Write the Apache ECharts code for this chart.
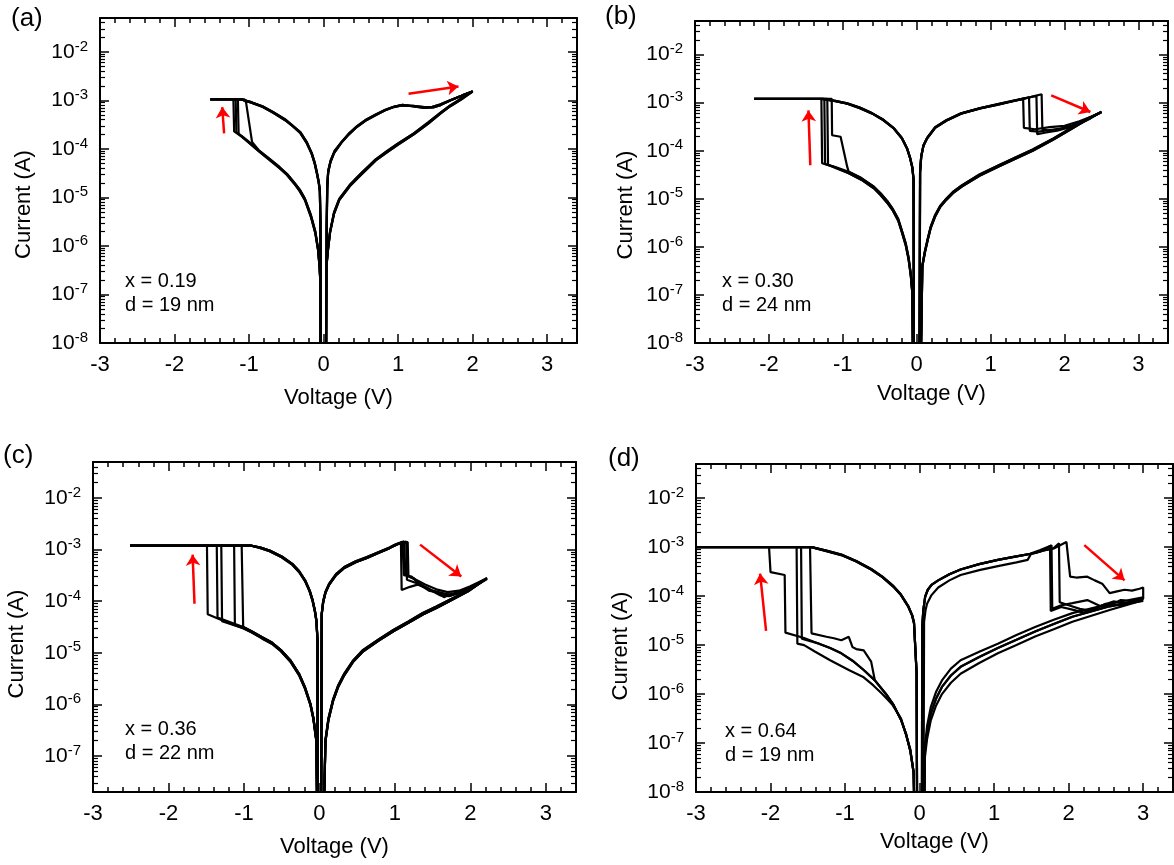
<!DOCTYPE html>
<html lang="en">
<head>
<meta charset="UTF-8" />
<title>Resistive switching I-V</title>
<style>
    body { margin: 0; padding: 0; background: #fff; }
    .chart { width: 1174px; height: 865px; }
</style>
</head>
<body>
<div class="chart"></div>
<script src="https://cdn.jsdelivr.net/npm/echarts@6.0.0/dist/echarts.min.js"></script>
<script>
    const FONT = 'Liberation Sans, Arial, Helvetica, sans-serif';

    // axis ticks
    const xMajor = [-3, -2, -1, 0, 1, 2, 3];
    const xMinor = [-2.8, -2.6, -2.4, -2.2, -1.8, -1.6, -1.4, -1.2, -0.8, -0.6, -0.4, -0.2,
        0.2, 0.4, 0.6, 0.8, 1.2, 1.4, 1.6, 1.8, 2.2, 2.4, 2.6, 2.8, 3.2];
    const yDecades = [-8, -7, -6, -5, -4, -3, -2];
    const xRange = [-3, 3.4];
    const yMins = [1e-8, 1e-8, 2e-8, 1e-8];
    const yMax = 0.05;

    const tags = ['(a)', '(b)', '(c)', '(d)'];
    const notes = ['x = 0.19\nd = 19 nm', 'x = 0.30\nd = 24 nm', 'x = 0.36\nd = 22 nm', 'x = 0.64\nd = 19 nm'];

    // ---------- (a) x = 0.19, branches as [V, A] ----------
    const lrsPosA1 = [[0.03,1e-10],[0.04,2e-6],[0.048,1.5e-5],[0.06,3.2e-5],[0.09,5.2e-5],[0.14,8.2e-5],[0.24,1.35e-4],[0.34,2e-4],[0.44,2.8e-4],[0.56,3.8e-4],[0.69,4.9e-4],[0.82,6.2e-4],[0.94,7.3e-4],[1.05,7.9e-4],[1.2,7.7e-4],[1.35,7.3e-4],[1.46,7.4e-4],[1.56,8.2e-4],[1.69,1.0e-3],[1.85,1.25e-3],[2.0,1.55e-3]];
    const lrsPosA2 = [[0.03,1e-10],[0.042,2.5e-6],[0.05,1.7e-5],[0.063,3.6e-5],[0.095,5.8e-5],[0.15,9.2e-5],[0.25,1.45e-4],[0.35,2.15e-4],[0.45,2.95e-4],[0.57,4.0e-4],[0.7,5.15e-4],[0.83,6.4e-4],[0.95,7.5e-4],[1.06,8.1e-4],[1.21,7.5e-4],[1.35,7.0e-4],[1.47,7.2e-4],[1.57,8.0e-4],[1.7,1.0e-3],[1.86,1.27e-3],[2.0,1.52e-3]];
    const hrsPosA1 = [[1.85,1.05e-3],[1.7,7.6e-4],[1.57,5.4e-4],[1.4,3.3e-4],[1.21,2.0e-4],[0.99,1.2e-4],[0.85,8.5e-5],[0.7,5.8e-5],[0.5,2.9e-5],[0.35,1.7e-5],[0.21,8.8e-6],[0.14,4.6e-6],[0.087,1.9e-6],[0.06,8.5e-7],[0.04,4e-7],[0.025,1e-10]];
    const hrsPosA2 = [[1.85,1.1e-3],[1.7,7.9e-4],[1.57,5.6e-4],[1.4,3.5e-4],[1.21,2.1e-4],[0.99,1.27e-4],[0.85,9.0e-5],[0.7,6.1e-5],[0.5,3.1e-5],[0.35,1.8e-5],[0.21,9.3e-6],[0.14,4.9e-6],[0.087,2.0e-6],[0.06,9e-7],[0.04,4.2e-7],[0.025,1e-10]];
    const hrsNegA1 = [[-0.035,1e-10],[-0.045,2e-7],[-0.054,3.7e-7],[-0.074,8.2e-7],[-0.11,1.8e-6],[-0.17,4e-6],[-0.25,8.8e-6],[-0.32,1.35e-5],[-0.39,1.9e-5],[-0.49,2.9e-5],[-0.59,4.0e-5],[-0.73,6.0e-5],[-0.87,9.0e-5]];
    const hrsNegA2 = [[-0.035,1e-10],[-0.046,2.2e-7],[-0.055,4e-7],[-0.075,8.8e-7],[-0.11,1.95e-6],[-0.17,4.3e-6],[-0.25,9.4e-6],[-0.32,1.45e-5],[-0.39,2.0e-5],[-0.49,3.05e-5],[-0.59,4.2e-5],[-0.73,6.3e-5],[-0.87,9.4e-5]];
    const setA1 = [[-1.0,1.35e-4],[-1.1,1.8e-4],[-1.2,2.3e-4],[-1.21,1.05e-3],[-1.52,1.05e-3]];
    const setA2 = [[-1.0,1.4e-4],[-1.1,1.85e-4],[-1.17,2.2e-4],[-1.18,1.05e-3],[-1.52,1.05e-3]];
    const setA3 = [[-1.0,1.33e-4],[-1.08,1.7e-4],[-1.14,2.05e-4],[-1.15,1.05e-3],[-1.52,1.05e-3]];
    const setA4 = [[-0.96,1.4e-4],[-1.04,9.0e-4],[-1.06,1.05e-3],[-1.52,1.05e-3]];
    const lrsNegA1 = [[-1.1,1.05e-3],[-0.96,8.9e-4],[-0.815,7.3e-4],[-0.67,5.5e-4],[-0.515,3.9e-4],[-0.41,2.9e-4],[-0.31,2.1e-4],[-0.23,1.35e-4],[-0.16,7.9e-5],[-0.12,5.0e-5],[-0.09,3.1e-5],[-0.065,2.0e-5],[-0.05,1.3e-5],[-0.042,3e-6],[-0.03,1e-10]];
    const lrsNegA2 = [[-1.11,1.05e-3],[-0.97,9.2e-4],[-0.82,7.6e-4],[-0.68,5.8e-4],[-0.52,4.1e-4],[-0.42,3.05e-4],[-0.31,2.2e-4],[-0.23,1.42e-4],[-0.16,8.3e-5],[-0.12,5.3e-5],[-0.09,3.3e-5],[-0.065,2.1e-5],[-0.05,1.4e-5],[-0.043,3.2e-6],[-0.03,1e-10]];

    // ---------- (b) x = 0.30 ----------
    const lrsPosB1 = [[0.035,1e-10],[0.045,3.5e-5],[0.06,7.5e-5],[0.09,1.25e-4],[0.14,1.8e-4],[0.25,3.0e-4],[0.4,4.2e-4],[0.6,5.9e-4],[0.86,7.6e-4],[1.1,9.1e-4],[1.3,1.07e-3],[1.44,1.2e-3]];
    const lrsPosB2 = [[0.035,1e-10],[0.046,3.7e-5],[0.062,7.8e-5],[0.092,1.3e-4],[0.14,1.85e-4],[0.25,3.1e-4],[0.4,4.3e-4],[0.6,6.0e-4],[0.86,7.7e-4],[1.1,9.3e-4],[1.3,1.09e-3],[1.44,1.21e-3]];
    const resetB1 = [[1.45,3.0e-4],[1.6,2.8e-4],[1.8,3.1e-4],[2.0,3.3e-4],[2.2,4.1e-4],[2.35,5.0e-4],[2.5,6.4e-4]];
    const resetB2 = [[1.52,1.28e-3],[1.53,2.6e-4],[1.65,2.5e-4],[1.8,2.7e-4],[1.95,2.9e-4],[2.1,3.3e-4],[2.3,4.4e-4],[2.5,6.3e-4]];
    const resetB3 = [[1.52,1.28e-3],[1.62,1.38e-3],[1.63,2.2e-4],[1.75,2.4e-4],[1.9,2.6e-4],[2.05,3.0e-4],[2.2,3.6e-4],[2.35,4.7e-4],[2.5,6.5e-4]];
    const resetB4 = [[1.55,1.32e-3],[1.69,1.5e-3],[1.7,2.8e-4],[1.8,2.6e-4],[1.95,2.9e-4],[2.1,3.4e-4],[2.3,4.5e-4],[2.5,6.4e-4]];
    const hrsPosB1 = [[2.3,4.4e-4],[2.12,3.0e-4],[1.85,1.7e-4],[1.57,1.0e-4],[1.35,7.0e-5],[1.11,4.7e-5],[0.85,3.0e-5],[0.61,1.8e-5],[0.5,1.35e-5],[0.4,9.5e-6],[0.32,6.8e-6],[0.25,4.3e-6],[0.19,2.5e-6],[0.15,1.4e-6],[0.11,7.5e-7],[0.076,3.9e-7],[0.04,1e-10]];
    const hrsPosB2 = [[2.3,4.6e-4],[2.12,3.15e-4],[1.85,1.8e-4],[1.57,1.06e-4],[1.35,7.4e-5],[1.11,5.0e-5],[0.85,3.2e-5],[0.61,1.9e-5],[0.5,1.43e-5],[0.4,1.0e-5],[0.32,7.2e-6],[0.25,4.6e-6],[0.19,2.65e-6],[0.15,1.5e-6],[0.11,8e-7],[0.076,4.1e-7],[0.04,1e-10]];
    const hrsNegB1 = [[-0.04,1e-10],[-0.06,1.1e-7],[-0.08,2.5e-7],[-0.11,5.5e-7],[-0.15,1.1e-6],[-0.2,2.0e-6],[-0.25,3.5e-6],[-0.32,5.6e-6],[-0.4,8.3e-6],[-0.49,1.2e-5],[-0.58,1.65e-5],[-0.75,2.5e-5],[-0.92,3.4e-5]];
    const hrsNegB2 = [[-0.04,1e-10],[-0.06,1.2e-7],[-0.08,2.7e-7],[-0.11,6e-7],[-0.15,1.2e-6],[-0.2,2.15e-6],[-0.25,3.8e-6],[-0.32,6.0e-6],[-0.4,9.0e-6],[-0.49,1.3e-5],[-0.58,1.78e-5],[-0.75,2.7e-5],[-0.92,3.65e-5]];
    const setB1 = [[-1.1,4.5e-5],[-1.28,5.5e-5],[-1.29,1.2e-3],[-2.2,1.2e-3]];
    const setB2 = [[-1.1,4.6e-5],[-1.24,5.3e-5],[-1.25,1.2e-3],[-2.2,1.2e-3]];
    const setB3 = [[-1.1,4.4e-5],[-1.2,5.1e-5],[-1.21,1.2e-3],[-2.2,1.2e-3]];
    const setB4 = [[-0.94,4.6e-5],[-1.03,1.95e-4],[-1.145,2.1e-4],[-1.15,1.2e-3],[-2.2,1.2e-3]];
    const lrsNegB1 = [[-1.28,1.2e-3],[-1.1,1.07e-3],[-0.94,9.5e-4],[-0.77,7.7e-4],[-0.6,5.9e-4],[-0.45,4.3e-4],[-0.31,2.9e-4],[-0.2,1.8e-4],[-0.13,1.1e-4],[-0.09,7.0e-5],[-0.06,4.5e-5],[-0.043,2.5e-5],[-0.035,1e-10]];
    const lrsNegB2 = [[-1.28,1.2e-3],[-1.1,1.09e-3],[-0.94,9.7e-4],[-0.77,7.9e-4],[-0.6,6.0e-4],[-0.45,4.4e-4],[-0.31,2.95e-4],[-0.2,1.85e-4],[-0.13,1.12e-4],[-0.09,7.2e-5],[-0.06,4.6e-5],[-0.043,2.6e-5],[-0.035,1e-10]];

    // ---------- (c) x = 0.36 ----------
    const lrsPosC1 = [[0.02,1e-10],[0.03,5.5e-5],[0.05,9.5e-5],[0.08,1.45e-4],[0.13,2.1e-4],[0.22,3.2e-4],[0.33,4.4e-4],[0.48,5.7e-4],[0.63,6.9e-4],[0.78,8.6e-4],[0.93,1.07e-3],[1.0,1.2e-3],[1.05,1.3e-3]];
    const lrsPosC2 = [[0.02,1e-10],[0.031,5.8e-5],[0.05,1.0e-4],[0.08,1.52e-4],[0.13,2.2e-4],[0.22,3.35e-4],[0.33,4.6e-4],[0.48,5.95e-4],[0.63,7.2e-4],[0.78,8.9e-4],[0.93,1.1e-3],[1.0,1.24e-3],[1.05,1.33e-3]];
    const resetC1 = [[1.08,1.38e-3],[1.09,1.65e-4],[1.2,1.9e-4],[1.3,2.1e-4],[1.45,1.7e-4],[1.6,1.4e-4],[1.75,1.35e-4],[1.9,1.6e-4],[2.05,2.0e-4],[2.22,2.8e-4]];
    const resetC2 = [[1.1,1.42e-3],[1.12,3.2e-4],[1.22,3.0e-4],[1.3,2.3e-4],[1.4,1.9e-4],[1.5,1.6e-4],[1.62,1.45e-4],[1.75,1.3e-4],[1.9,1.55e-4],[2.05,2.0e-4],[2.22,2.75e-4]];
    const resetC3 = [[1.12,1.45e-3],[1.14,3.3e-4],[1.25,2.8e-4],[1.35,2.0e-4],[1.45,1.6e-4],[1.55,1.5e-4],[1.65,1.2e-4],[1.75,1.4e-4],[1.9,1.5e-4],[2.05,1.9e-4],[2.22,2.7e-4]];
    const resetC4 = [[1.15,1.43e-3],[1.16,2.6e-4],[1.3,2.2e-4],[1.45,1.7e-4],[1.6,1.3e-4],[1.72,1.25e-4],[1.85,1.45e-4],[2.0,1.8e-4],[2.22,2.8e-4]];
    const resetC5 = [[1.17,1.4e-3],[1.18,3.0e-4],[1.28,2.6e-4],[1.4,2.1e-4],[1.55,1.7e-4],[1.7,1.5e-4],[1.85,1.6e-4],[2.0,1.95e-4],[2.22,2.8e-4]];
    const hrsPosC1 = [[1.97,1.55e-4],[1.72,1.0e-4],[1.55,7.4e-5],[1.37,5.5e-5],[1.18,3.8e-5],[0.98,2.6e-5],[0.78,1.7e-5],[0.58,1.07e-5],[0.45,6.8e-6],[0.33,3.7e-6],[0.25,2.2e-6],[0.18,1.15e-6],[0.12,5e-7],[0.08,1.9e-7],[0.03,1e-10]];
    const hrsPosC2 = [[1.97,1.62e-4],[1.72,1.06e-4],[1.55,7.9e-5],[1.37,5.9e-5],[1.18,4.05e-5],[0.98,2.77e-5],[0.78,1.8e-5],[0.58,1.14e-5],[0.45,7.2e-6],[0.33,3.95e-6],[0.25,2.35e-6],[0.18,1.23e-6],[0.12,5.4e-7],[0.08,2.05e-7],[0.03,1e-10]];
    const hrsNegC1 = [[-0.017,1e-10],[-0.04,1.9e-7],[-0.08,5.2e-7],[-0.12,9.8e-7],[-0.19,2.0e-6],[-0.27,3.7e-6],[-0.38,6.6e-6],[-0.51,1.07e-5],[-0.63,1.5e-5],[-0.76,1.9e-5],[-0.9,2.5e-5],[-1.01,3.0e-5]];
    const hrsNegC2 = [[-0.017,1e-10],[-0.04,2.0e-7],[-0.08,5.5e-7],[-0.12,1.04e-6],[-0.19,2.12e-6],[-0.27,3.92e-6],[-0.38,7.0e-6],[-0.51,1.13e-5],[-0.63,1.58e-5],[-0.76,2.0e-5],[-0.9,2.62e-5],[-1.01,3.15e-5]];
    const setC1 = [[-1.26,4.1e-5],[-1.48,5.6e-5],[-1.49,1.2e-3],[-2.51,1.2e-3]];
    const setC2 = [[-1.26,4.3e-5],[-1.35,4.8e-5],[-1.36,1.2e-3],[-2.51,1.2e-3]];
    const setC3 = [[-1.26,3.95e-5],[-1.29,4.1e-5],[-1.3,1.2e-3],[-2.51,1.2e-3]];
    const setC4 = [[-1.12,3.5e-5],[-1.13,1.2e-3],[-2.51,1.2e-3]];
    const setC5 = [[-1.02,3.0e-5],[-1.03,1.2e-3],[-2.51,1.2e-3]];
    const lrsNegC1 = [[-0.91,1.2e-3],[-0.78,1.07e-3],[-0.66,9.3e-4],[-0.5,7.1e-4],[-0.36,5.1e-4],[-0.27,3.7e-4],[-0.19,2.45e-4],[-0.13,1.55e-4],[-0.09,1.0e-4],[-0.06,6.3e-5],[-0.04,4.1e-5],[-0.025,1.7e-5],[-0.02,1e-10]];
    const lrsNegC2 = [[-0.91,1.2e-3],[-0.78,1.1e-3],[-0.66,9.6e-4],[-0.5,7.4e-4],[-0.36,5.3e-4],[-0.27,3.85e-4],[-0.19,2.55e-4],[-0.13,1.62e-4],[-0.09,1.05e-4],[-0.06,6.6e-5],[-0.04,4.3e-5],[-0.025,1.8e-5],[-0.02,1e-10]];

    // ---------- (d) x = 0.64 ----------
    const lrsPosD1 = [[0.03,1e-10],[0.035,2.3e-5],[0.05,5.2e-5],[0.075,9.8e-5],[0.11,1.35e-4],[0.16,1.7e-4],[0.25,2.1e-4],[0.4,2.8e-4],[0.55,3.5e-4],[0.8,4.5e-4],[1.05,5.5e-4],[1.3,6.5e-4],[1.55,7.6e-4],[1.65,8.5e-4]];
    const lrsPosD2 = [[0.05,1e-10],[0.06,3.0e-5],[0.08,5.2e-5],[0.1,7.0e-5],[0.16,1.05e-4],[0.25,1.5e-4],[0.4,2.1e-4],[0.55,2.7e-4],[0.8,3.4e-4],[1.05,4.1e-4],[1.3,4.9e-4],[1.45,5.5e-4],[1.5,7.5e-4],[1.62,8.8e-4]];
    const resetD1 = [[1.77,1.1e-3],[1.78,5.5e-5],[1.9,6.5e-5],[2.05,7.2e-5],[2.25,8.3e-5],[2.45,6.0e-5],[2.6,7.0e-5],[2.7,8.3e-5],[2.85,8.0e-5],[3.0,9.5e-5]];
    const resetD2 = [[1.8,9.6e-4],[1.87,1.2e-3],[1.88,7.5e-5],[2.0,6.5e-5],[2.15,5.5e-5],[2.3,5.0e-5],[2.45,6.5e-5],[2.6,7.8e-5],[2.8,7.0e-5],[3.0,8.3e-5]];
    const resetD3 = [[1.8,9.4e-4],[1.97,1.28e-3],[2.02,2.5e-4],[2.1,2.4e-4],[2.25,2.5e-4],[2.35,2.1e-4],[2.45,1.8e-4],[2.55,1.15e-4],[2.65,1.25e-4],[2.75,1.35e-4],[2.85,1.3e-4],[2.95,1.42e-4],[3.0,1.5e-4],[3.0,8.8e-5]];
    const resetD4 = [[1.75,1.05e-3],[1.76,5.0e-5],[1.9,6.0e-5],[2.05,5.3e-5],[2.2,4.6e-5],[2.35,5.5e-5],[2.5,7.0e-5],[2.7,6.5e-5],[2.85,7.5e-5],[3.0,8.0e-5]];
    const hrsPosD1 = [[2.55,7.0e-5],[2.05,4.5e-5],[1.8,3.3e-5],[1.55,2.35e-5],[1.3,1.6e-5],[1.05,1.07e-5],[0.8,7.3e-6],[0.55,4.9e-6],[0.42,3.3e-6],[0.3,1.9e-6],[0.22,1.1e-6],[0.15,5.4e-7],[0.1,2.2e-7],[0.07,8e-8],[0.05,1e-10]];
    const hrsPosD2 = [[2.55,5.2e-5],[2.05,3.0e-5],[1.8,2.1e-5],[1.55,1.5e-5],[1.3,1.0e-5],[1.05,6.8e-6],[0.8,4.3e-6],[0.55,2.6e-6],[0.42,1.7e-6],[0.3,1.0e-6],[0.22,5.8e-7],[0.15,2.9e-7],[0.1,1.2e-7],[0.07,5e-8],[0.05,1e-10]];
    const hrsPosD3 = [[2.55,6.2e-5],[2.05,3.8e-5],[1.8,2.7e-5],[1.55,1.9e-5],[1.3,1.28e-5],[1.05,8.7e-6],[0.8,5.7e-6],[0.55,3.6e-6],[0.42,2.4e-6],[0.3,1.4e-6],[0.22,8e-7],[0.15,4e-7],[0.1,1.6e-7],[0.07,6.5e-8],[0.05,1e-10]];
    const hrsNegD1 = [[-0.05,1e-10],[-0.08,2.5e-8],[-0.125,7e-8],[-0.18,1.5e-7],[-0.25,3e-7],[-0.35,6e-7],[-0.45,1.0e-6],[-0.6,1.9e-6],[-0.75,3.1e-6],[-0.9,4.8e-6],[-1.05,6.8e-6],[-1.2,8.7e-6],[-1.35,1.07e-5]];
    const hrsNegD2 = [[-0.05,1e-10],[-0.08,2.5e-8],[-0.125,7.5e-8],[-0.25,3.2e-7],[-0.37,6.2e-7],[-0.5,1.0e-6],[-0.62,1.5e-6],[-0.75,2.2e-6],[-0.95,3.1e-6],[-1.2,4.9e-6],[-1.4,7.3e-6],[-1.55,1.0e-5]];
    const setD1 = [[-1.55,1.4e-5],[-1.8,1.8e-5],[-1.81,2.7e-4],[-2.0,3.1e-4],[-2.02,1.0e-3],[-3.0,1.0e-3]];
    const setD2 = [[-1.64,1.07e-5],[-1.65,1.0e-3],[-3.0,1.0e-3]];
    const setD3 = [[-1.58,1.35e-5],[-1.59,1.0e-3],[-3.0,1.0e-3]];
    const setD4 = [[-0.65,4.6e-6],[-0.75,7.8e-6],[-0.85,8.3e-6],[-0.9,9.1e-6],[-0.95,1.48e-5],[-1.05,1.26e-5],[-1.15,1.38e-5],[-1.25,1.48e-5],[-1.45,1.74e-5],[-1.47,1.0e-3],[-3.0,1.0e-3]];
    const lrsNegD1 = [[-1.45,1.0e-3],[-1.25,8.3e-4],[-1.05,6.9e-4],[-0.85,5.1e-4],[-0.65,3.5e-4],[-0.5,2.45e-4],[-0.35,1.55e-4],[-0.25,1.05e-4],[-0.15,6.0e-5],[-0.1,4.0e-5],[-0.075,2.8e-5],[-0.04,2.6e-6],[-0.03,1e-10]];
    const lrsNegD2 = [[-1.45,1.0e-3],[-1.25,8.5e-4],[-1.05,7.05e-4],[-0.85,5.2e-4],[-0.65,3.6e-4],[-0.5,2.5e-4],[-0.35,1.6e-4],[-0.25,1.08e-4],[-0.15,6.2e-5],[-0.1,4.1e-5],[-0.075,2.9e-5],[-0.04,2.7e-6],[-0.03,1e-10]];

    // red arrows: [tail, head]
    const arrowsA = [[[-1.335, 2.1e-4], [-1.36, 7.3e-4]], [[1.14, 1.37e-3], [1.81, 1.94e-3]]];
    const arrowsB = [[[-1.44, 5.0e-5], [-1.465, 6.9e-4]], [[1.82, 1.42e-3], [2.35, 6.4e-4]]];
    const arrowsC = [[[-1.655, 8.9e-5], [-1.68, 8.0e-4]], [[1.334, 1.25e-3], [1.88, 3.0e-4]]];
    const arrowsD = [[[-2.06, 1.95e-5], [-2.14, 2.9e-4]], [[2.21, 1.1e-3], [2.75, 2.1e-4]]];

    const cat = (...parts) => [].concat(...parts);
    const cycles = [
        [
            cat(lrsPosA1, hrsPosA1, hrsNegA1, setA1, lrsNegA1),
            cat(lrsPosA2, hrsPosA2, hrsNegA2, setA2, lrsNegA2),
            cat(lrsPosA1, hrsPosA2, hrsNegA1, setA3, lrsNegA2),
            cat(lrsPosA2, hrsPosA1, hrsNegA2, setA4, lrsNegA1)
        ],
        [
            cat(lrsPosB1, resetB1, hrsPosB1, hrsNegB1, setB1, lrsNegB1),
            cat(lrsPosB2, resetB2, hrsPosB2, hrsNegB2, setB2, lrsNegB2),
            cat(lrsPosB1, resetB3, hrsPosB2, hrsNegB1, setB3, lrsNegB2),
            cat(lrsPosB2, resetB4, hrsPosB1, hrsNegB2, setB4, lrsNegB1)
        ],
        [
            cat(lrsPosC1, resetC1, hrsPosC1, hrsNegC1, setC1, lrsNegC1),
            cat(lrsPosC2, resetC2, hrsPosC2, hrsNegC2, setC2, lrsNegC2),
            cat(lrsPosC1, resetC3, hrsPosC2, hrsNegC1, setC3, lrsNegC2),
            cat(lrsPosC2, resetC4, hrsPosC1, hrsNegC2, setC4, lrsNegC1),
            cat(lrsPosC1, resetC5, hrsPosC1, hrsNegC2, setC5, lrsNegC2)
        ],
        [
            cat(lrsPosD1, resetD1, hrsPosD1, hrsNegD1, setD1, lrsNegD1),
            cat(lrsPosD1, resetD2, hrsPosD2, hrsNegD2, setD2, lrsNegD2),
            cat(lrsPosD1, resetD3, hrsPosD3, hrsNegD1, setD3, lrsNegD1),
            cat(lrsPosD2, resetD4, hrsPosD3, hrsNegD1.slice(0, 8), setD4, lrsNegD2)
        ]
    ];
    const arrows = [arrowsA, arrowsB, arrowsC, arrowsD];

    // page layout (pixels)
    const layout = [
        {left: 100, top: 18, width: 477, height: 325, xGap: 44, yGap: 65, yShift: 24, tag: [11, 6], note: [125, 269]},
        {left: 695, top: 21, width: 473, height: 322, xGap: 40, yGap: 58, yShift: 23, tag: [605, 4], note: [722, 269]},
        {left: 93, top: 462, width: 483, height: 330, xGap: 44, yGap: 65, yShift: 17, tag: [3, 443], note: [125, 717]},
        {left: 696, top: 464, width: 477, height: 328, xGap: 39, yGap: 64, yShift: 18, tag: [608, 446], note: [725, 719]}
    ];

    const black = '#000';
    const grids = [], xAxes = [], yAxes = [], series = [], graphics = [];

    function minorLogTicks(lo, hi) {
        const out = [];
        for (let n = -9; n <= -1; n++) {
            for (let k = 2; k <= 9; k++) {
                const v = n + Math.log10(k);
                if (v > lo && v < hi) out.push(v);
            }
        }
        return out;
    }

    const frameLine = {show: true, onZero: false, lineStyle: {color: black, width: 2}};
    const noLine = {show: false, onZero: false};
    const tick = (len, values, w) => ({show: true, inside: true, length: len, customValues: values, lineStyle: {color: black, width: w}});

    cycles.forEach((set, i) => {
        const L = layout[i];
        grids.push({left: L.left, top: L.top, width: L.width, height: L.height});
        const lo = Math.log10(yMins[i]);
        const hi = Math.log10(yMax);
        const decades = yDecades.filter(v => v >= lo - 1e-9 && v <= hi);
        const minor = minorLogTicks(lo, hi);

        const xi = xAxes.length;
        const xBase = {gridIndex: i, type: 'value', min: xRange[0], max: xRange[1], splitLine: {show: false}};
        xAxes.push(Object.assign({}, xBase, {
            position: 'bottom',
            name: 'Voltage (V)', nameLocation: 'middle', nameGap: L.xGap,
            nameTextStyle: {fontFamily: FONT, fontSize: 22, color: black},
            axisLine: frameLine,
            axisTick: tick(9, xMajor, 1.5),
            axisLabel: {customValues: xMajor, margin: 11, fontFamily: FONT, fontSize: 22, color: black}
        }));
        xAxes.push(Object.assign({}, xBase, {position: 'bottom', axisLine: noLine, axisTick: tick(5, xMinor, 1.5), axisLabel: {show: false}}));
        xAxes.push(Object.assign({}, xBase, {position: 'top', axisLine: frameLine, axisTick: tick(9, xMajor, 1.5), axisLabel: {show: false}}));
        xAxes.push(Object.assign({}, xBase, {position: 'top', axisLine: noLine, axisTick: tick(5, xMinor, 1.5), axisLabel: {show: false}}));

        // data axis: real log scale
        const yi = yAxes.length;
        yAxes.push({gridIndex: i, type: 'log', logBase: 10, min: yMins[i], max: yMax, show: false});

        // frame / tick axes in log10 units, same extent as the data axis
        const yBase = {gridIndex: i, type: 'value', min: lo, max: hi, splitLine: {show: false}};
        yAxes.push(Object.assign({}, yBase, {
            position: 'left',
            name: 'Current (A)', nameLocation: 'middle', nameGap: L.yGap, nameRotate: 90,
            nameTextStyle: {fontFamily: FONT, fontSize: 22, color: black, padding: [0, L.yShift * 2, 0, 0]},
            axisLine: frameLine,
            axisTick: tick(9, decades, 1.5),
            axisLabel: {
                customValues: decades, margin: 12,
                formatter: v => '{b|10}{s|' + Math.round(v) + '}',
                rich: {
                    b: {fontFamily: FONT, fontSize: 21, color: black, lineHeight: 26},
                    s: {fontFamily: FONT, fontSize: 15, color: black, lineHeight: 15, verticalAlign: 'top'}
                }
            }
        }));
        yAxes.push(Object.assign({}, yBase, {position: 'left', axisLine: noLine, axisTick: tick(5, minor, 1.2), axisLabel: {show: false}}));
        yAxes.push(Object.assign({}, yBase, {position: 'right', axisLine: frameLine, axisTick: tick(9, decades, 1.5), axisLabel: {show: false}}));
        yAxes.push(Object.assign({}, yBase, {position: 'right', axisLine: noLine, axisTick: tick(5, minor, 1.2), axisLabel: {show: false}}));

        set.forEach(cyc => {
            series.push({
                type: 'line', xAxisIndex: xi, yAxisIndex: yi, data: cyc,
                symbol: 'none', silent: true, clip: true,
                lineStyle: {color: black, width: 2.2}
            });
        });
        series.push({
            type: 'lines', coordinateSystem: 'cartesian2d', xAxisIndex: xi, yAxisIndex: yi,
            symbol: ['none', 'arrow'], symbolSize: 11, silent: true,
            lineStyle: {color: '#f00', width: 2.5, opacity: 1},
            data: arrows[i].map(a => ({coords: a}))
        });

        graphics.push({
            type: 'text', left: L.tag[0], top: L.tag[1],
            style: {text: tags[i], font: '26px ' + FONT, fill: black}
        });
        graphics.push({
            type: 'text', left: L.note[0], top: L.note[1],
            style: {text: notes[i], font: '20px ' + FONT, fill: black, lineHeight: 24}
        });
    });

    const chart = echarts.init(document.querySelector('.chart'));
    chart.setOption({
        animation: false,
        backgroundColor: '#fff',
        grid: grids,
        xAxis: xAxes,
        yAxis: yAxes,
        series: series,
        graphic: graphics
    });
</script>
</body>
</html>
